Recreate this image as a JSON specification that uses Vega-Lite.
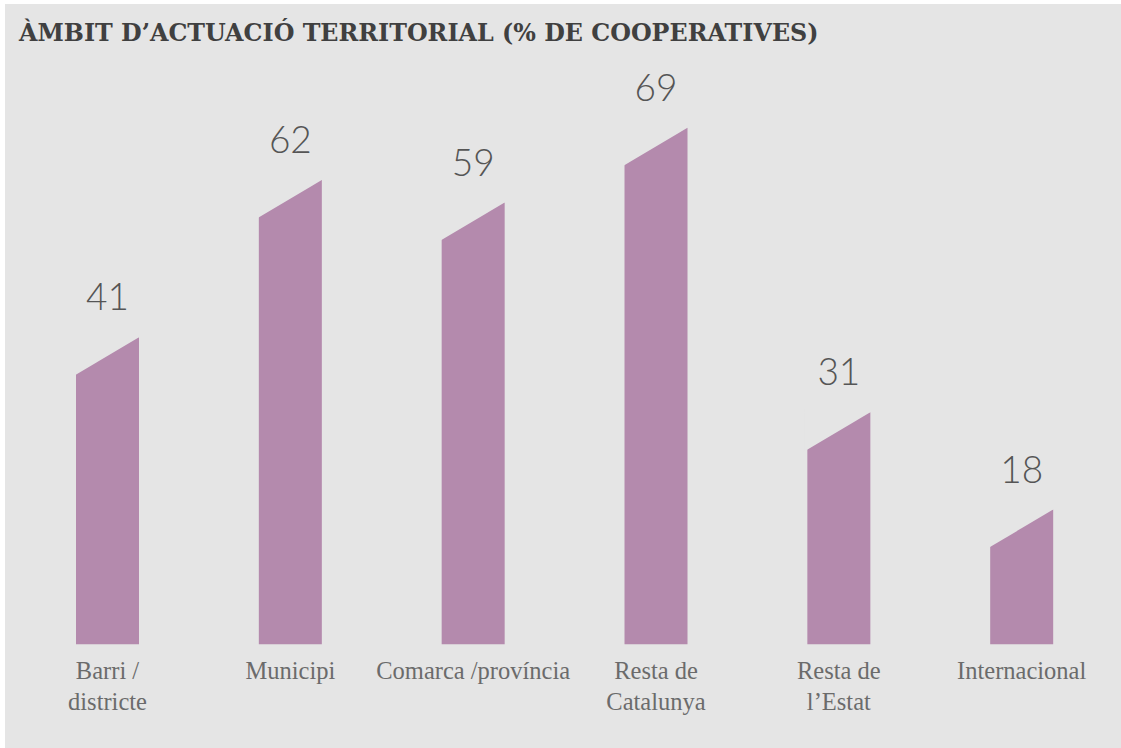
{
  "$schema": "https://vega.github.io/schema/vega-lite/v6.json",
  "width": 1116,
  "height": 744,
  "padding": {"left": 5, "top": 4, "right": 0, "bottom": 0},
  "autosize": {"type": "none"},
  "background": "#ffffff",
  "config": {"view": {"fill": "#e5e5e5", "stroke": null}},
  "title": {
    "text": "ÀMBIT D’ACTUACIÓ TERRITORIAL (% DE COOPERATIVES)",
    "anchor": "start",
    "frame": "group",
    "font": "DejaVu Serif",
    "fontSize": 23.8,
    "fontWeight": "bold",
    "color": "#404040",
    "offset": -42,
    "dx": 14
  },
  "data": {
    "values": [
      {"label": "Barri /\ndistricte", "value": 41},
      {"label": "Municipi", "value": 62},
      {"label": "Comarca /província", "value": 59},
      {"label": "Resta de\nCatalunya", "value": 69},
      {"label": "Resta de\nl’Estat", "value": 31},
      {"label": "Internacional", "value": 18}
    ]
  },
  "encoding": {
    "x": {
      "field": "label",
      "type": "nominal",
      "sort": null,
      "scale": {"type": "band", "range": [11.08, 1108.1], "paddingInner": 0, "paddingOuter": 0},
      "axis": {
        "orient": "bottom",
        "offset": -104,
        "title": null,
        "domain": false,
        "ticks": false,
        "labelAngle": 0,
        "labelBaseline": "alphabetic",
        "labelPadding": 34,
        "labelFont": "Liberation Serif",
        "labelFontSize": 24.5,
        "labelColor": "#6b6b6b",
        "labelLineHeight": 31,
        "labelLimit": 0,
        "labelOverlap": false,
        "labelExpr": "split(datum.label, '\\n')"
      }
    }
  },
  "layer": [
    {
      "mark": {"type": "bar", "width": 63, "color": "#b48aad"},
      "encoding": {
        "y": {
          "field": "value",
          "type": "quantitative",
          "scale": {"domain": [0, 80], "range": [640.3, 41.26], "nice": false, "zero": false},
          "axis": null
        },
        "y2": {"datum": 0}
      }
    },
    {
      "mark": {
        "type": "point",
        "shape": "M -1.1 -0.1 L 1.05 -0.1 L 1 0 L -1.1 1.246 Z",
        "size": 3969,
        "filled": true,
        "color": "#e5e5e5",
        "opacity": 1,
        "strokeWidth": 0
      },
      "encoding": {
        "y": {"field": "value", "type": "quantitative"}
      }
    },
    {
      "mark": {
        "type": "text",
        "dy": -27,
        "baseline": "alphabetic",
        "align": "center",
        "font": "Lato",
        "fontWeight": 300,
        "fontSize": 37,
        "color": "#555555"
      },
      "encoding": {
        "y": {"field": "value", "type": "quantitative"},
        "text": {"field": "value", "type": "quantitative"}
      }
    }
  ]
}
